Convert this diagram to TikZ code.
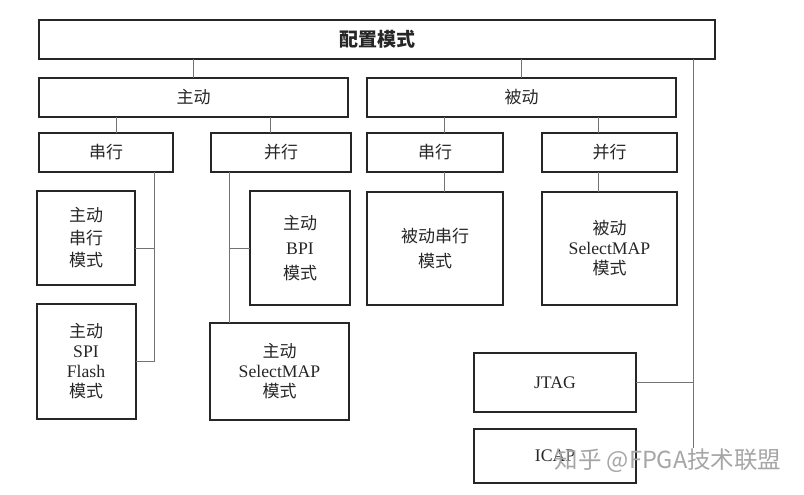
\documentclass[tikz,border=0pt]{standalone}
\usepackage{fontspec}
\setmainfont{Liberation Serif}[Scale=1.04]
\newfontfamily\cjk{Noto Sans CJK SC}
\newcommand{\zh}[1]{{\cjk #1}}
\usetikzlibrary{positioning}
\usetikzlibrary{calc}

\begin{document}
\begin{tikzpicture}[
    x=1pt, y=-1pt,
    node distance = 19pt and 19pt,% gaps between boxes
       box/.style = {draw=black!85, line width=2pt, inner sep=0pt, outer sep=0pt, align=center,
                     text=black!85, font=\fontsize{17}{20}\selectfont},% boxes style
      link/.style = {draw=black!55, line width=0.8pt}% connectors style
    ]
    \useasboundingbox (0,0) rectangle (804,495);
    \node (cfg) [box, minimum width=676pt, minimum height=39pt] at (377,39.5) {\zh{\fontsize{19}{20}\selectfont\bfseries 配置模式}};
    \node (zd) [box, minimum width=309pt, minimum height=39pt] at (193.5,97.5) {\zh{主动}};
    \node (bd) [box, minimum width=309pt, minimum height=39pt, right=of zd] {\zh{被动}};
    \node (zdser) [box, minimum width=134pt, minimum height=39pt] at (106,152.5) {\zh{串行}};
    \node (zdpar) [box, minimum width=140pt, minimum height=39pt, right=38pt of zdser] {\zh{并行}};
    \node (bdser) [box, minimum width=136pt, minimum height=39pt, right=16pt of zdpar] {\zh{串行}};
    \node (bdpar) [box, minimum width=135pt, minimum height=39pt, right=39pt of bdser] {\zh{并行}};
    \node (zdsm) [box, minimum width=98pt, minimum height=94pt,
                  font=\fontsize{17}{22.5}\selectfont] at (86,238) {\zh{主动}\\\zh{串行}\\\zh{模式}};
    \node (zdspi) [box, minimum width=99pt, minimum height=115pt, below=of zdsm] {\zh{主动}\\SPI\\Flash\\\zh{模式}};
    \node (zdbpi) [box, minimum width=100pt, minimum height=114pt,
                   font=\fontsize{17}{25}\selectfont] at (300,248) {\zh{主动}\\BPI\\\zh{模式}};
    \node (zdsel) [box, minimum width=139pt, minimum height=97pt] at (279.5,371.5) {\zh{主动}\\SelectMAP\\\zh{模式}};
    \node (bdsm) [box, minimum width=136pt, minimum height=113pt, below=20pt of bdser,
                  font=\fontsize{17}{25}\selectfont] {\zh{被动串行}\\\zh{模式}};
    \node (bdsel) [box, minimum width=135pt, minimum height=113pt, below=20pt of bdpar] {\zh{被动}\\SelectMAP\\\zh{模式}};
    \node (jtag) [box, minimum width=162pt, minimum height=59pt] at (555,382.5) {JTAG};
    \node (icap) [box, minimum width=162pt, minimum height=54pt, below=17pt of jtag] {ICAP};
    % tree links
    \coordinate (zdL) at ($(zd.south west)!0.25!(zd.south east)$);
    \coordinate (zdR) at ($(zd.south west)!0.75!(zd.south east)$);
    \coordinate (bdL) at ($(bd.south west)!0.25!(bd.south east)$);
    \coordinate (bdR) at ($(bd.south west)!0.75!(bd.south east)$);
    \draw[link] (cfg.south -| zd.north) -- (zd.north);
    \draw[link] (cfg.south -| bd.north) -- (bd.north);
    \draw[link] (zdL) -- (zdL |- zdser.north);
    \draw[link] (zdR) -- (zdR |- zdpar.north);
    \draw[link] (bdL) -- (bdL |- bdser.north);
    \draw[link] (bdR) -- (bdR |- bdpar.north);
    \draw[link] (bdL |- bdser.south) -- (bdL |- bdsm.north);
    \draw[link] (bdR |- bdpar.south) -- (bdR |- bdsel.north);
    % side buses
    \coordinate (busA) at ([xshift=48pt]zdser.south);
    \coordinate (busB) at ([xshift=-52pt]zdpar.south);
    \coordinate (busC) at ([xshift=-22pt]cfg.south east);
    \coordinate (busEnd) at (busC |- 0,448);
    \draw[link] (busA) |- (zdspi.east);
    \draw[link] (zdsm.east |- zdbpi) -- (busA |- zdbpi);
    \draw[link] (busB) -- (busB |- zdsel.north);
    \draw[link] (busB |- zdbpi.west) -- (zdbpi.west);
    \draw[link] (busC) -- (busEnd);
    \draw[link] (jtag.east) -- (jtag.east -| busC);
    % watermark
    \node (wm) [text=black!35, font=\cjk\fontsize{23.5}{24}\selectfont] at (668,461) {知乎\ @FPGA技术联盟};
\end{tikzpicture}
\end{document}
